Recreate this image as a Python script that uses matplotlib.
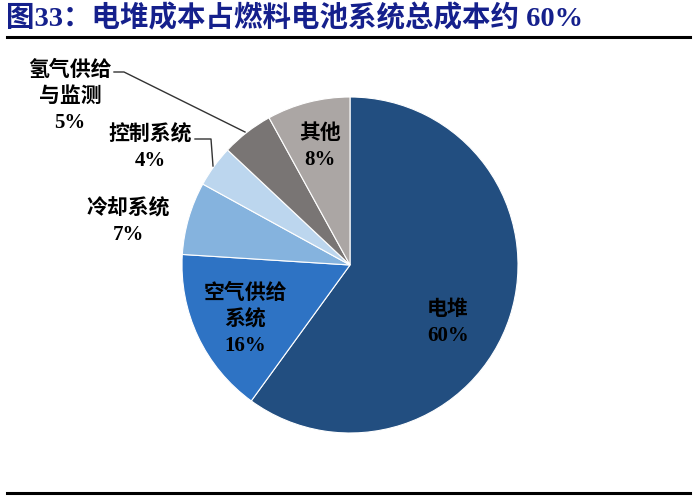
import matplotlib
matplotlib.use("Agg")
import matplotlib.pyplot as plt

# data
names = ["电堆", "空气供给\n系统", "冷却系统", "控制系统", "氢气供给\n与监测", "其他"]
shares = [60, 16, 7, 4, 5, 8]
colors = ["#224E80", "#2E73C4", "#85B3DE", "#BCD6EE", "#797574", "#ABA6A4"]

W, H = 695, 497
fam = ["Liberation Serif", "Noto Sans CJK SC"]

fig = plt.figure(figsize=(W / 100, H / 100), dpi=100)
ax = fig.add_axes([0, 0, 1, 1])
ax.set_xlim(0, W)
ax.set_ylim(0, H)
ax.set_aspect("equal")
ax.axis("off")

def py(y):  # pixel row -> data y
	return H - y

ax.pie(shares, colors=colors, center=(350, py(265)), radius=168, startangle=90,
	counterclock=False, wedgeprops=dict(edgecolor="white", linewidth=0.8))
ax.set_xlim(0, W)
ax.set_ylim(0, H)

# title and rules
ax.text(6, py(18), "图33：电堆成本占燃料电池系统总成本约 60%", family=fam, fontsize=20.5,
	fontweight="bold", color="#15208C", va="center", ha="left")
ax.plot([7, 690], [py(37), py(37)], color="black", lw=2.2)
ax.plot([7, 690], [py(493), py(493)], color="black", lw=2.2)

# slice labels: (text, x, y) in pixels
labels = [
	(names[0] + "\n%d%%" % shares[0], 448, 323),
	(names[1] + "\n%d%%" % shares[1], 245, 320),
	(names[2] + "\n%d%%" % shares[2], 128, 222),
	(names[3] + "\n%d%%" % shares[3], 150, 148),
	(names[4] + "\n%d%%" % shares[4], 70, 97),
	(names[5] + "\n%d%%" % shares[5], 320, 147),
]
for t, x, y in labels:
	ax.text(x, py(y), t, family=fam, fontsize=15, fontweight="bold", color="black",
		ha="center", va="center", linespacing=1.4)

# leader lines
ax.plot([114, 124, 245], [py(72), py(72), py(132)], color="#333333", lw=1)
ax.plot([195, 211, 213], [py(139), py(139), py(166)], color="#333333", lw=1)

fig.savefig("out.png", dpi=100)
